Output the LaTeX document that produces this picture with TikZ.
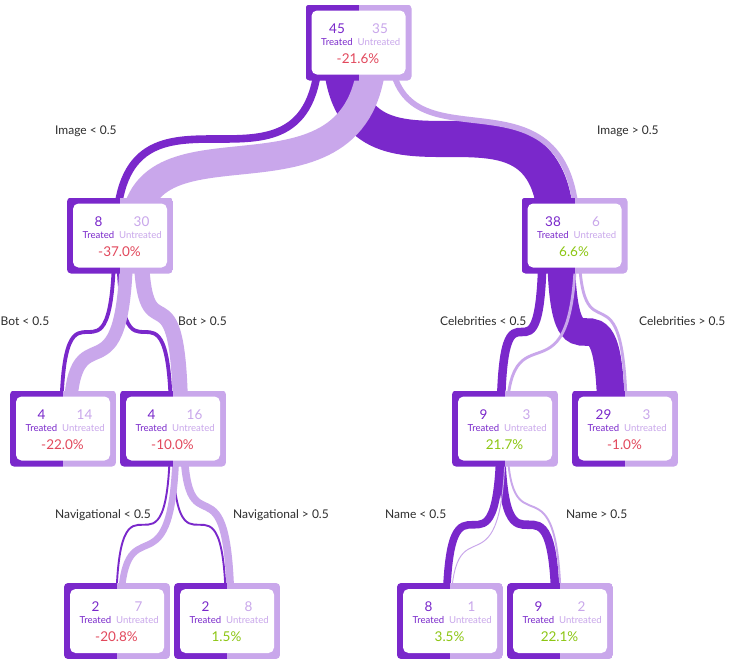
\documentclass[tikz,border=0pt]{standalone}
\usepackage{fontspec}
\setmainfont{Lato}
\usetikzlibrary{calc}
\definecolor{dk}{RGB}{122,40,203}
\definecolor{lt}{RGB}{201,167,235}
\definecolor{neg}{RGB}{226,72,92}
\definecolor{pos}{RGB}{140,198,18}
\definecolor{lab}{RGB}{45,45,45}
\pgfdeclarelayer{bg}
\pgfsetlayers{bg,main}
\tikzset{
  outerbox/.style={rectangle, rounded corners=4pt, minimum width=106pt, minimum height=76pt, inner sep=0pt,
    path picture={\fill[dk,sharp corners] (path picture bounding box.north west) rectangle (path picture bounding box.south);
                  \fill[lt,sharp corners] (path picture bounding box.north) rectangle (path picture bounding box.south east);}},
  innerbox/.style={rectangle, rounded corners=5.5pt, fill=white, minimum width=94pt, minimum height=64pt, inner sep=0pt},
  num/.style={anchor=base, font=\fontsize{13.5}{13.5}\selectfont, inner sep=0pt},
  word/.style={anchor=base, font=\fontsize{9.6}{9.6}\selectfont, inner sep=0pt},
  pct/.style={anchor=base, font=\fontsize{13.5}{13.5}\selectfont, inner sep=0pt},
  lbl/.style={anchor=base west, font=\fontsize{12}{12}\selectfont, text=lab, inner sep=0pt},
  flowline/.style={line cap=butt}
}
\newcommand\tbox[7]{%
  \node[outerbox] (#1) at (#2,#3) {};
  \node[innerbox] (#1-in) at (#1) {};
  \node[num,text=dk] (#1-n1) at ($(#1)+(-21.5,-9.5)$) {#4};
  \node[num,text=lt] (#1-n2) at ($(#1)+(21.5,-9.5)$) {#5};
  \node[word,text=dk] (#1-w1) at ($(#1)+(-21.5,2.8)$) {Treated};
  \node[word,text=lt] (#1-w2) at ($(#1)+(20.5,2.8)$) {Untreated};
  \node[pct,text=#7] (#1-p) at ($(#1)+(-0.5,20.5)$) {#6};
}
\newcommand\flow[8]{%
  \draw[flowline,#1,line width=#2pt] ($(#3)+(#4,0)$) .. controls ($(#3)+(#4,#7)$) and ($(#5)+(#6,-#8)$) .. ($(#5)+(#6,0)$);
}
\begin{document}
\begin{tikzpicture}[x=1pt,y=-1pt]
\useasboundingbox (0,0) rectangle (731,664);

\tbox{root}{358.5}{42.5}{45}{35}{-21.6\%}{neg}
\tbox{L1}{120}{235.5}{8}{30}{-37.0\%}{neg}
\tbox{R1}{574.5}{235.5}{38}{6}{6.6\%}{pos}
\tbox{LL}{63}{428.5}{4}{14}{-22.0\%}{neg}
\tbox{LR}{173}{428.5}{4}{16}{-10.0\%}{neg}
\tbox{RL}{505}{428.5}{9}{3}{21.7\%}{pos}
\tbox{RR}{625}{428.5}{29}{3}{-1.0\%}{neg}
\tbox{LRL}{117}{621}{2}{7}{-20.8\%}{neg}
\tbox{LRR}{227}{621}{2}{8}{1.5\%}{pos}
\tbox{RLL}{450}{621}{8}{1}{3.5\%}{pos}
\tbox{RLR}{560}{621}{9}{2}{22.1\%}{pos}

\begin{pgfonlayer}{bg}
\fill[white] (0,0) rectangle (731,664);
% treated flows
\flow{dk}{7.6}{root}{-39.2}{L1}{-3.8}{193}{193}
\flow{dk}{36.1}{root}{-18.05}{R1}{-18.05}{193}{193}
\flow{dk}{3.8}{L1}{-5.7}{LL}{-1.9}{193}{193}
\flow{dk}{3.8}{L1}{-1.9}{LR}{-1.9}{193}{193}
\flow{dk}{8.55}{R1}{-31.8}{RL}{-4.275}{193}{193}
\flow{dk}{27.55}{R1}{-13.775}{RR}{-13.775}{193}{193}
\flow{dk}{1.9}{LR}{-2.85}{LRL}{-0.95}{193}{193}
\flow{dk}{1.9}{LR}{-0.95}{LRR}{-0.95}{193}{193}
\flow{dk}{7.6}{RL}{-4.75}{RLL}{-3.8}{193}{193}
\flow{dk}{8.55}{RL}{-4.275}{RLR}{-4.275}{193}{193}
% untreated flows
\flow{lt}{28.5}{root}{14.25}{L1}{14.25}{193}{140}
\flow{lt}{5.7}{root}{31.35}{R1}{2.85}{146}{193}
\flow{lt}{13.3}{L1}{6.65}{LL}{6.65}{193}{140}
\flow{lt}{15.2}{L1}{20.9}{LR}{7.6}{146}{193}
\flow{lt}{2.85}{R1}{1.425}{RL}{1.425}{193}{140}
\flow{lt}{2.85}{R1}{4.275}{RR}{1.425}{146}{193}
\flow{lt}{6.65}{LR}{3.325}{LRL}{3.325}{193}{140}
\flow{lt}{7.6}{LR}{10.45}{LRR}{3.8}{146}{193}
\flow{lt}{0.95}{RL}{0.475}{RLL}{0.475}{193}{140}
\flow{lt}{1.9}{RL}{1.9}{RLR}{0.95}{146}{193}
\end{pgfonlayer}

\node[lbl] (lab1) at (55,134) {Image < 0.5};
\node[lbl] (lab2) at (597,134) {Image > 0.5};
\node[lbl] (lab3) at (0.5,325.7) {Bot < 0.5};
\node[lbl] (lab4) at (178,325.7) {Bot > 0.5};
\node[lbl] (lab5) at (440,325.7) {Celebrities < 0.5};
\node[lbl] (lab6) at (639,325.7) {Celebrities > 0.5};
\node[lbl] (lab7) at (55,518.5) {Navigational < 0.5};
\node[lbl] (lab8) at (233,518.5) {Navigational > 0.5};
\node[lbl] (lab9) at (385,518.5) {Name < 0.5};
\node[lbl] (lab10) at (566,518.5) {Name > 0.5};
\end{tikzpicture}
\end{document}
